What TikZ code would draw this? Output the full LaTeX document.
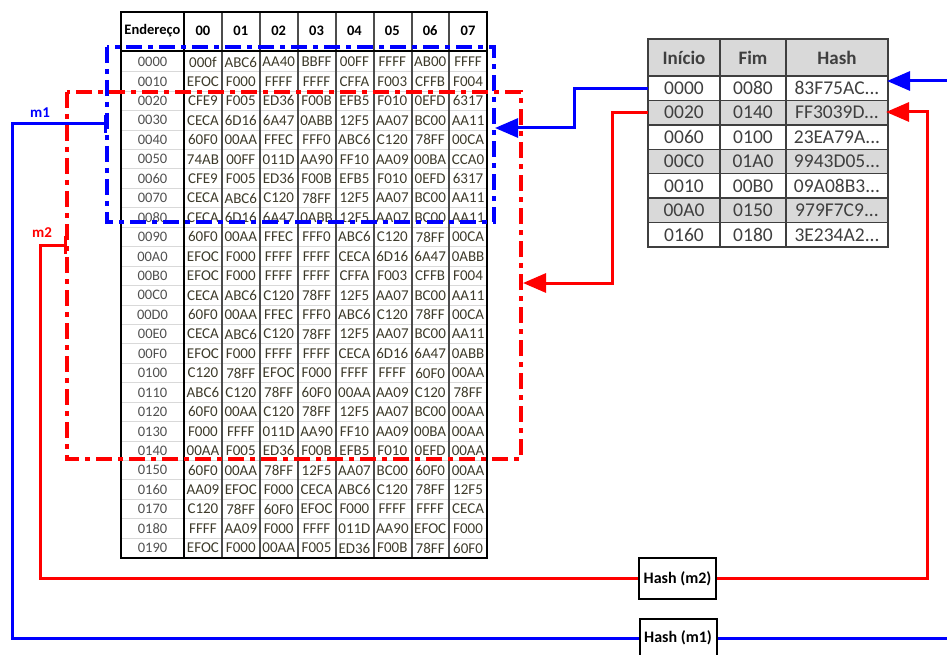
\documentclass[tikz,border=0pt]{standalone}
\usepackage{fontspec}
\setmainfont{Carlito}
\usetikzlibrary{arrows.meta}
\definecolor{hexcol}{HTML}{3D3A2A}
\definecolor{addrcol}{HTML}{505050}
\definecolor{cellgray}{HTML}{D9D9D9}
\definecolor{tabtext}{HTML}{3F3F3F}
\newcommand{\trail}{...}
\tikzset{
  mone/.style={draw=blue,line width=3pt},
  mtwo/.style={draw=red,line width=3pt},
  dashdot/.style={line width=3.5pt,dash pattern=on 16pt off 6pt on 5pt off 6pt},
  tip/.style={-{Triangle[length=23pt,width=19pt]}},
  bartip/.style={{Bar[width=18pt]}-},
  hdr/.style={font=\bfseries\fontsize{14.5}{14}\selectfont,text=black},
  addr/.style={font=\fontsize{14.5}{14}\selectfont,text=addrcol},
  hexv/.style={font=\fontsize{15}{14}\selectfont,text=hexcol},
  cell/.style={inner sep=0pt,font=\fontsize{19.5}{19}\selectfont,text=tabtext},
  hashbox/.style={draw,line width=2pt,inner sep=0pt,minimum width=77pt,
    font=\bfseries\fontsize{16}{16}\selectfont}
}
\begin{document}
\begin{tikzpicture}[x=1pt,y=-1pt]
  \useasboundingbox (0,0) rectangle (947,655);

  % memory table
  \foreach \k in {1,...,25}
    \draw[cellgray,line width=1pt] (121,{52.3+19.44*\k}) -- (487,{52.3+19.44*\k});
  \foreach \x in {222,260,298,336,374,412,449}
    \draw[black!70,line width=1.3pt] (\x,12) -- (\x,557.7);
  \draw[line width=2pt] (121,12) rectangle (487,557.7);
  \draw[line width=2pt] (184,12) -- (184,557.7);
  \draw[line width=2pt] (121,51) -- (487,51);
  \node[hdr] (hAddr) at (152.5,31) {Endereço};
  \foreach \h [count=\c] in {00,01,02,03,04,05,06,07}
    \node[hdr] (h\c) at ({184+37.875*(\c-0.5)},31) {\h};
  \foreach \a/\vals [count=\r] in {
      0000/{000f,ABC6,AA40,BBFF,00FF,FFFF,AB00,FFFF},
      0010/{EFOC,F000,FFFF,FFFF,CFFA,F003,CFFB,F004},
      0020/{CFE9,F005,ED36,F00B,EFB5,F010,0EFD,6317},
      0030/{CECA,6D16,6A47,0ABB,12F5,AA07,BC00,AA11},
      0040/{60F0,00AA,FFEC,FFF0,ABC6,C120,78FF,00CA},
      0050/{74AB,00FF,011D,AA90,FF10,AA09,00BA,CCA0},
      0060/{CFE9,F005,ED36,F00B,EFB5,F010,0EFD,6317},
      0070/{CECA,ABC6,C120,78FF,12F5,AA07,BC00,AA11},
      0080/{CECA,6D16,6A47,0ABB,12F5,AA07,BC00,AA11},
      0090/{60F0,00AA,FFEC,FFF0,ABC6,C120,78FF,00CA},
      00A0/{EFOC,F000,FFFF,FFFF,CECA,6D16,6A47,0ABB},
      00B0/{EFOC,F000,FFFF,FFFF,CFFA,F003,CFFB,F004},
      00C0/{CECA,ABC6,C120,78FF,12F5,AA07,BC00,AA11},
      00D0/{60F0,00AA,FFEC,FFF0,ABC6,C120,78FF,00CA},
      00E0/{CECA,ABC6,C120,78FF,12F5,AA07,BC00,AA11},
      00F0/{EFOC,F000,FFFF,FFFF,CECA,6D16,6A47,0ABB},
      0100/{C120,78FF,EFOC,F000,FFFF,FFFF,60F0,00AA},
      0110/{ABC6,C120,78FF,60F0,00AA,AA09,C120,78FF},
      0120/{60F0,00AA,C120,78FF,12F5,AA07,BC00,00AA},
      0130/{F000,FFFF,011D,AA90,FF10,AA09,00BA,00AA},
      0140/{00AA,F005,ED36,F00B,EFB5,F010,0EFD,00AA},
      0150/{60F0,00AA,78FF,12F5,AA07,BC00,60F0,00AA},
      0160/{AA09,EFOC,F000,CECA,ABC6,C120,78FF,12F5},
      0170/{C120,78FF,60F0,EFOC,F000,FFFF,FFFF,CECA},
      0180/{FFFF,AA09,F000,FFFF,011D,AA90,EFOC,F000},
      0190/{EFOC,F000,00AA,F005,ED36,F00B,78FF,60F0}} {
    \node[addr] (a\r) at (152.5,{62+19.44*(\r-1)}) {\a};
    \foreach \v [count=\c] in \vals
      \node[hexv] (d\r-\c) at ({184+37.875*(\c-0.5)},{62+19.44*(\r-1)}) {\v};
  }

  % blocks m1 and m2
  \draw[blue,dashdot] (107,47) rectangle (494,222);
  \draw[red,dashdot] (67,92) rectangle (521,459);

  % hash table
  \foreach \x/\w/\t [count=\c] in {684/72/Início,753/66/Fim,837/102/Hash}
    \node[cell,fill=cellgray,minimum width=\w,minimum height=37,
      font=\bfseries\fontsize{19}{19}\selectfont] (t0-\c) at (\x,57.5) {\t};
  \foreach \s/\e/\hv [count=\r] in {0000/0080/83F75AC\trail,0020/0140/FF3039D\trail,
      0060/0100/23EA79A\trail,00C0/01A0/9943D05\trail,0010/00B0/09A08B3\trail,
      00A0/0150/979F7C9\trail,0160/0180/3E234A2\trail} {
    \pgfmathsetmacro\bg{isodd(\r) ? "white" : "cellgray"}
    \node[cell,fill=\bg,minimum width=72,minimum height=24.43] (t\r-1)
      at (684,{76+24.43*(\r-0.5)}) {\s};
    \node[cell,fill=\bg,minimum width=66,minimum height=24.43] (t\r-2)
      at (753,{76+24.43*(\r-0.5)}) {\e};
    \node[cell,fill=\bg,minimum width=102,minimum height=24.43] (t\r-3)
      at (837,{76+24.43*(\r-0.5)}) {\hv};
  }
  \foreach \k in {0,...,7}
    \draw[tabtext,line width=1.5pt] (648,{76+24.43*\k}) -- (888,{76+24.43*\k});
  \foreach \x in {720,786}
    \draw[tabtext,line width=1.5pt] (\x,39) -- (\x,247);
  \draw[tabtext,line width=2pt] (648,39) rectangle (888,247);

  % hash boxes
  \node[hashbox,minimum height=41] (hm2) at (677.5,578.5) {Hash (m2)};
  \node[hashbox,minimum height=38] (hm1) at (678,638) {Hash (m1)};

  % connectors
  \coordinate (m1tip) at (107,124);
  \coordinate (m2tip) at (67,245);
  \coordinate (blueIn) at (887,81);
  \coordinate (redIn) at (886,112);
  \coordinate (blueOut) at (495,128);
  \coordinate (redOut) at (523,283);
  \draw[mone,bartip] (m1tip) -- ++(-95,0) |- (hm1.west);
  \node[blue,font=\bfseries\fontsize{15}{15}\selectfont] (m1lab) at (40,113) {m1};
  \draw[mtwo,bartip] (m2tip) -- ++(-27,0) |- (hm2.west);
  \node[red,font=\bfseries\fontsize{15}{15}\selectfont] (m2lab) at (42,233) {m2};
  \draw[mone,tip] (hm1.east) -- (948,638) |- (blueIn);
  \draw[mtwo,tip] (hm2.east) -- (927,578.5) |- (redIn);
  \draw[mone,tip] (t1-1.west) -- ++(-73,0) |- (blueOut);
  \draw[mtwo,tip] (t2-1.west) -- ++(-35,0) |- (redOut);
\end{tikzpicture}
\end{document}
